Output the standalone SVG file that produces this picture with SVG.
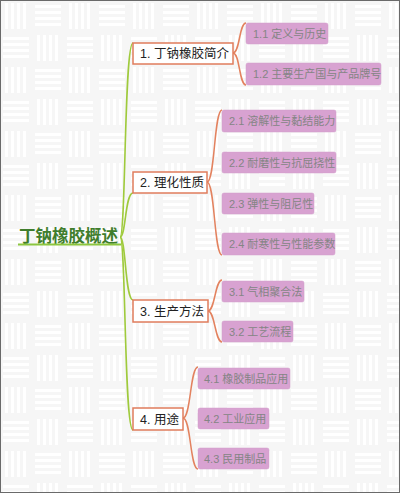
<svg xmlns="http://www.w3.org/2000/svg" width="400" height="493" viewBox="0 0 400 493">
<defs>
<pattern id="weave" x="0" y="0" width="64" height="64" patternUnits="userSpaceOnUse">
<rect width="64" height="64" fill="#f6f6f6"/>
<g fill="#ffffff">
<rect x="5" y="3" width="3" height="26"/><rect x="11" y="3" width="3" height="26"/><rect x="17" y="3" width="3" height="26"/><rect x="23" y="3" width="3" height="26"/>
<rect x="35" y="5" width="26" height="3"/><rect x="35" y="11" width="26" height="3"/><rect x="35" y="17" width="26" height="3"/><rect x="35" y="23" width="26" height="3"/>
<rect x="3" y="37" width="26" height="3"/><rect x="3" y="43" width="26" height="3"/><rect x="3" y="49" width="26" height="3"/><rect x="3" y="55" width="26" height="3"/>
<rect x="37" y="35" width="3" height="26"/><rect x="43" y="35" width="3" height="26"/><rect x="49" y="35" width="3" height="26"/><rect x="55" y="35" width="3" height="26"/>
</g>
</pattern>
<style>
.br{fill:#ffffff;stroke:#e07c5c;stroke-width:1.5}
.brt{font-family:"Liberation Sans","Noto Sans CJK SC",sans-serif;font-size:12.5px;fill:#222}
.ch{fill:#d8a2d1;stroke:#d39ccb;stroke-width:0.5}
.cht{font-family:"Liberation Sans","Noto Sans CJK SC",sans-serif;font-size:11px;fill:#858585}
.g{fill:none;stroke:#9fca3c;stroke-width:1.6}
.o{fill:none;stroke:#e3825f;stroke-width:1.5}
</style>
</defs>
<rect width="400" height="493" fill="url(#weave)"/>
<rect x="0.5" y="0.5" width="399" height="492" fill="none" stroke="#6a6a6a" stroke-width="1"/>

<g id="connectors">
<path class="g" d="M120,237 C126,237 124,43 133,43"/>
<path class="g" d="M120,237 C126,237 125,193 133,193"/>
<path class="g" d="M120,237 C126,237 125,300 133,300"/>
<path class="g" d="M120,237 C126,237 124,430 133,430"/>
<path class="o" d="M233,53 C240,53 239,23 246,23 M233,53 C240,53 239,85 246,85"/>
<path class="o" d="M207,182 C215,182 214,110 222,110 M207,182 C215,182 214,255 222,255"/>
<path class="o" d="M208,311 C215,311 215,280 222,280 M208,311 C215,311 215,342 222,342"/>
<path class="o" d="M183,418 C191,418 190,367 198,367 M183,418 C191,418 190,469 198,469"/>
</g>

<g id="root">
<text x="19" y="242" font-family="'Liberation Sans','Noto Sans CJK SC',sans-serif" font-size="16.5" font-weight="bold" fill="#3f7d2c">丁钠橡胶概述</text>
<line x1="18" y1="244.5" x2="121" y2="244.5" stroke="#8cc63f" stroke-width="2"/>
</g>

<g id="b1"><rect class="br" x="133" y="43" width="100" height="21"/><text class="brt" x="140" y="58">1. 丁钠橡胶简介</text></g>
<g id="b2"><rect class="br" x="133" y="172" width="74" height="21"/><text class="brt" x="140" y="187">2. 理化性质</text></g>
<g id="b3"><rect class="br" x="133" y="300" width="75" height="22"/><text class="brt" x="140" y="315.5">3. 生产方法</text></g>
<g id="b4"><rect class="br" x="133" y="408" width="50" height="22"/><text class="brt" x="140" y="423.5">4. 用途</text></g>

<g id="c11"><rect class="ch" x="246" y="23" width="82" height="21" rx="2"/><text class="cht" x="253" y="37.5">1.1 定义与历史</text></g>
<g id="c12"><rect class="ch" x="246" y="63" width="135" height="22" rx="2"/><text class="cht" x="253" y="78">1.2 主要生产国与产品牌号</text></g>
<g id="c21"><rect class="ch" x="222" y="110" width="114" height="22" rx="2"/><text class="cht" x="229" y="125">2.1 溶解性与黏结能力</text></g>
<g id="c22"><rect class="ch" x="222" y="152" width="114" height="21" rx="2"/><text class="cht" x="229" y="166.5">2.2 耐磨性与抗屈挠性</text></g>
<g id="c23"><rect class="ch" x="222" y="193" width="92" height="21" rx="2"/><text class="cht" x="229" y="207.5">2.3 弹性与阻尼性</text></g>
<g id="c24"><rect class="ch" x="222" y="233" width="113" height="22" rx="2"/><text class="cht" x="229" y="248">2.4 耐寒性与性能参数</text></g>
<g id="c31"><rect class="ch" x="222" y="281" width="82" height="21" rx="2"/><text class="cht" x="229" y="295.5">3.1 气相聚合法</text></g>
<g id="c32"><rect class="ch" x="222" y="321" width="71" height="21" rx="2"/><text class="cht" x="229" y="335.5">3.2 工艺流程</text></g>
<g id="c41"><rect class="ch" x="198" y="368" width="92" height="21" rx="2"/><text class="cht" x="204" y="382.5">4.1 橡胶制品应用</text></g>
<g id="c42"><rect class="ch" x="198" y="408" width="71" height="21" rx="2"/><text class="cht" x="204" y="422.5">4.2 工业应用</text></g>
<g id="c43"><rect class="ch" x="198" y="448" width="71" height="21" rx="2"/><text class="cht" x="204" y="462.5">4.3 民用制品</text></g>
</svg>
